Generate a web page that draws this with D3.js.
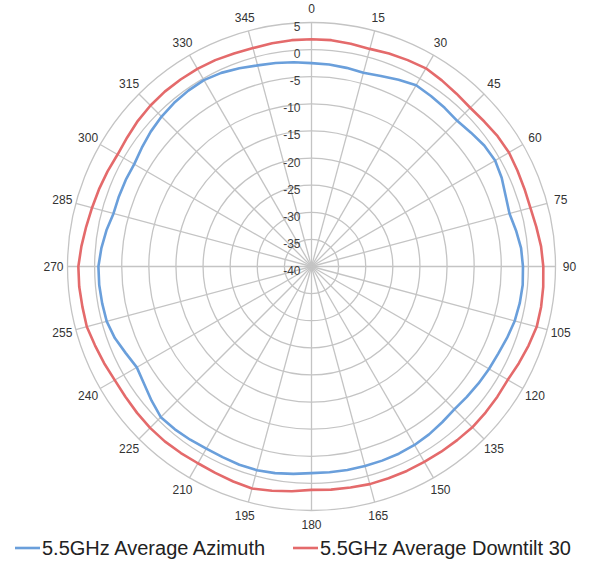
<!DOCTYPE html>
<html>
<head>
<meta charset="utf-8">
<script src="https://cdn.jsdelivr.net/npm/d3@7"></script>
<style>
  body { margin: 0; background: #fff; }
  svg { display: block; }
</style>
</head>
<body>
<svg id="chart" width="592" height="571"></svg>
<script>
// Measurement angles (degrees, clockwise from 0 at top)
const angles = [
  0, 5, 10, 15, 20, 25, 30, 35, 40, 45, 50, 55,
  60, 65, 70, 75, 80, 85, 90, 95, 100, 105, 110, 115,
  120, 125, 130, 135, 140, 145, 150, 155, 160, 165, 170, 175,
  180, 185, 190, 195, 200, 205, 210, 215, 220, 225, 230, 235,
  240, 245, 250, 255, 260, 265, 270, 275, 280, 285, 290, 295,
  300, 305, 310, 315, 320, 325, 330, 335, 340, 345, 350, 355
];

// Gain (dBi) - 5.5GHz Average Azimuth
const azimuth = [
  -2.5, -2.6, -2.8, -3.0, -2.6, -2.0, -1.4, -1.6, -1.8, -2.0, -1.6, -1.1,
  -0.9, -1.3, -1.9, -2.2, -1.7, -1.2, -1.0, -0.9, -1.0, -1.2, -1.6, -2.0,
  -2.2, -2.4, -2.6, -2.75, -2.5, -2.2, -2.0, -1.9, -1.9, -1.9, -1.9, -1.9,
  -1.9, -1.6, -1.3, -1.1, -1.1, -1.2, -1.2, -1.0, -0.8, -0.7, -1.5, -2.3,
  -2.8, -2.2, -1.4, -0.9, -0.8, -0.7, -0.7, -1.1, -1.6, -2.2, -2.2, -2.2,
  -2.25, -1.8, -1.3, -0.9, -0.6, -0.4, -0.3, -0.6, -1.1, -1.6, -1.9, -2.2
];

// Gain (dBi) - 5.5GHz Average Downtilt 30
const downtilt = [
  1.9, 1.9, 1.7, 1.55, 1.8, 2.0, 2.2, 1.9, 1.6, 1.4, 1.6, 1.9,
  2.05, 1.9, 1.8, 1.8, 2.1, 2.5, 2.75, 2.9, 3.0, 3.0, 2.6, 2.2,
  1.8, 1.85, 1.9, 1.95, 1.8, 1.7, 1.6, 1.6, 1.55, 1.55, 1.4, 1.3,
  1.2, 1.6, 2.0, 2.4, 2.2, 2.0, 1.9, 2.0, 2.1, 2.1, 2.0, 1.9,
  1.9, 2.2, 2.5, 2.9, 2.9, 3.0, 3.0, 2.6, 2.2, 1.9, 1.7, 1.5,
  1.3, 1.5, 1.8, 2.0, 2.1, 2.1, 2.1, 2.0, 1.8, 1.7, 1.8, 1.9
];

const ringTicks = [-40, -35, -30, -25, -20, -15, -10, -5, 0, 5];
const spokeTicks = [0, 15, 30, 45, 60, 75, 90, 105, 120, 135, 150, 165,
                    180, 195, 210, 225, 240, 255, 270, 285, 300, 315, 330, 345];

const seriesNames = ["5.5GHz Average Azimuth", "5.5GHz Average Downtilt 30"];
const seriesColors = ["#6a9fdb", "#e46a6b"];

const svg = d3.select("#chart");
const cx = 311.5, cy = 266.5, R = 244;

const r = d3.scaleLinear().domain([-40, 5]).range([0, R]);
const toRad = d => d * Math.PI / 180;

const g = svg.append("g").attr("transform", `translate(${cx},${cy})`);
const grid = g.append("g").attr("fill", "none").attr("stroke", "#c4c4c4").attr("stroke-width", 1.3);

// concentric rings
grid.selectAll("circle")
  .data(ringTicks.filter(v => v > -40))
  .join("circle")
  .attr("r", d => r(d));

// spokes
grid.selectAll("line")
  .data(spokeTicks)
  .join("line")
  .attr("x1", 0).attr("y1", 0)
  .attr("x2", d => r(5) * Math.sin(toRad(d)))
  .attr("y2", d => -r(5) * Math.cos(toRad(d)));

// angle labels
g.append("g")
  .attr("font-family", "Liberation Sans, Arial, sans-serif")
  .attr("font-size", 12)
  .attr("fill", "#333")
  .attr("text-anchor", "middle")
  .selectAll("text")
  .data(spokeTicks)
  .join("text")
  .attr("x", d => (r(5) + 14) * Math.sin(toRad(d)))
  .attr("y", d => -(r(5) + 14) * Math.cos(toRad(d)))
  .attr("dy", "0.35em")
  .text(d => d);

// ring value labels along the 0° axis
g.append("g")
  .attr("font-family", "Liberation Sans, Arial, sans-serif")
  .attr("font-size", 12)
  .attr("fill", "#404040")
  .attr("text-anchor", "end")
  .selectAll("text")
  .data(ringTicks)
  .join("text")
  .attr("x", -11)
  .attr("y", d => -r(d) + 8.5)
  .text(d => d);

// pattern traces
const radial = d3.lineRadial()
  .angle(d => toRad(d[0]))
  .radius(d => r(d[1]))
  .curve(d3.curveLinearClosed);

const series = [azimuth, downtilt];
g.append("g")
  .selectAll("path")
  .data(series)
  .join("path")
  .attr("fill", "none")
  .attr("stroke", (d, i) => seriesColors[i])
  .attr("stroke-width", 2.6)
  .attr("stroke-linejoin", "round")
  .attr("d", vals => radial(angles.map((a, i) => [a, vals[i]])));

// legend
const legend = svg.append("g")
  .attr("font-family", "Liberation Sans, Arial, sans-serif")
  .attr("font-size", 20)
  .attr("fill", "#222");
const legendX = [15, 293];
seriesNames.forEach((name, i) => {
  const lg = legend.append("g").attr("transform", `translate(${legendX[i]},548)`);
  lg.append("line").attr("x1", 0).attr("x2", 25).attr("y1", 0).attr("y2", 0)
    .attr("stroke", seriesColors[i]).attr("stroke-width", 2.6);
  lg.append("text").attr("x", 27).attr("y", 0).attr("dy", "0.35em").text(name);
});
</script>
</body>
</html>
